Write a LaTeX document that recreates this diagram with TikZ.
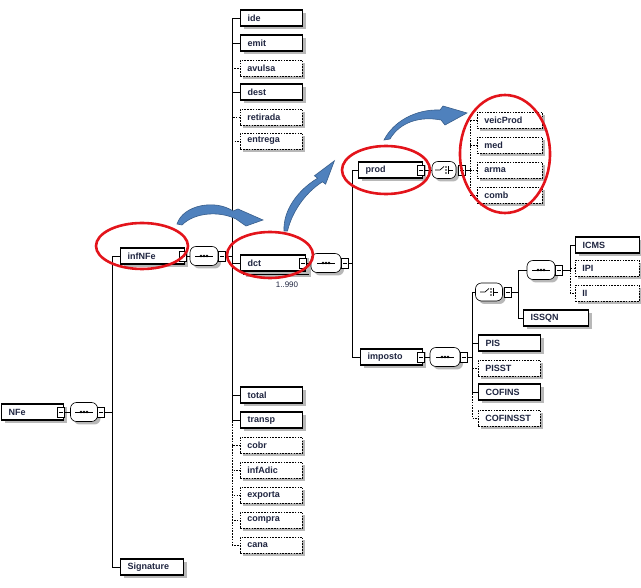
\documentclass[tikz,border=0pt]{standalone}
\usepackage{fontspec}
\setmainfont{Liberation Sans}
\usetikzlibrary{shapes.misc,shadows,calc}
\definecolor{navy}{HTML}{1F2540}
\definecolor{arrfill}{HTML}{4F81BD}
\definecolor{arrline}{HTML}{385D8A}
\definecolor{ovalred}{HTML}{E3141B}
\newcommand\seqsym[1]{%
  \draw[line width=0.8pt] ([xshift=-9pt]#1.center) -- ([xshift=9pt]#1.center);
  \foreach \dx in {-3,0,3} \fill ([xshift=\dx pt]#1.center) circle (1.3pt);}
\newcommand\chsym[1]{%
  \draw[line width=0.7pt] ([xshift=-9pt]#1.center) -- ([xshift=-4pt]#1.center) -- ([xshift=0pt,yshift=3.5pt]#1.center);
  \foreach \dy in {-3,0,3} \fill ([xshift=2pt,yshift=\dy pt]#1.center) circle (0.9pt);
  \draw[line width=0.7pt] ([xshift=4.5pt,yshift=-4pt]#1.center) -- ([xshift=4.5pt,yshift=4pt]#1.center)
    ([xshift=4.5pt]#1.center) -- ([xshift=9pt]#1.center);}
\begin{document}
\begin{tikzpicture}[x=1pt,y=-1pt,
  shd/.style={drop shadow={shadow xshift=3pt,shadow yshift=-3pt,fill=black!28,opacity=1}},
  el/.style={draw=black, line width=1.1pt, fill=white, anchor=west, minimum height=16pt,
    inner xsep=7pt, inner ysep=0pt, text width=#1, align=left, text=navy,
    font=\fontsize{9}{10}\selectfont\bfseries, shd},
  el/.default=48pt,
  opt/.style={el=#1, line width=0.8pt, dash pattern=on 1.6pt off 1.2pt},
  opt/.default=48pt,
  comp/.style={rectangle, rounded corners=6pt, draw=black, line width=0.6pt,
    fill=white, minimum width=28pt, minimum height=19pt, inner sep=0pt, shd},
  sq/.style={draw=black, line width=0.6pt, fill=white, minimum width=7pt, minimum height=10pt, inner sep=0pt},
  cn/.style={line width=0.6pt},
  cnd/.style={line width=0.6pt, dash pattern=on 1.6pt off 1.2pt},
  lbl/.style={font=\fontsize{8}{9}\selectfont, text=navy},
  oval/.style={draw=ovalred, line width=2.6pt},
  barrow/.style={fill=arrfill, draw=arrline, line width=0.6pt}
]
\useasboundingbox (0,0) rectangle (641,588);

% ---------- NFe level
\node[el] (NFe) at (1,412) {NFe};
\node[sq] (NFe-s) at (61,412) {\rule{4pt}{0.6pt}};
\node[comp, minimum width=27pt] (c0) at (84,412) {}; \seqsym{c0}
\node[sq] (c0-s) at (101,412) {\rule{4pt}{0.6pt}};
\coordinate (b0) at (112,412);

\node[el=50pt] (infNFe) at (120,256) {infNFe};
\node[sq] (infNFe-s) at (183,256) {\rule{4pt}{0.6pt}};
\node[comp] (c1) at (204,256) {}; \seqsym{c1}
\node[sq] (c1-s) at (222,256) {\rule{4pt}{0.6pt}};
\coordinate (b1) at (232,256);

\node[el=49pt] (Signature) at (120,567) {Signature};

\draw[cn] (NFe-s.east) -- (c0.west);
\draw[cn] (c0-s.east) -- (b0);
\draw[cn] (b0) |- (infNFe.west);
\draw[cn] (b0) |- (Signature.west);
\draw[cn] (infNFe-s.east) -- (c1.west);
\draw[cn] (c1-s.east) -- (b1);

% ---------- infNFe children
\node[el] (ide) at (240,18) {ide};
\node[el] (emit) at (240,43) {emit};
\node[opt] (avulsa) at (240,68) {avulsa};
\node[el] (dest) at (240,92) {dest};
\node[opt] (retirada) at (240,117) {retirada};
\node[opt] (entrega) at (240,141) {entrega};
\node[el=51pt, draw=black, line width=0.8pt] (dctback) at (243,266) {\phantom{dct}};
\node[el=51pt] (dct) at (240,263) {dct};
\node[el] (total) at (240,395) {total};
\node[el] (transp) at (240,420) {transp};
\node[opt] (cobr) at (240,445) {cobr};
\node[opt] (infAdic) at (240,470) {infAdic};
\node[opt] (exporta) at (240,495) {exporta};
\node[opt] (compra) at (240,520) {compra};
\node[opt] (cana) at (240,545) {cana};

\foreach \n in {avulsa,retirada,entrega,cobr,infAdic,exporta,compra,cana}
  \draw[cnd] (b1) |- (\n.west);
\foreach \n in {ide,emit,dest,dct,total,transp}
  \draw[cn] (b1) |- (\n.west);

\node[lbl] (mult) at (287,285) {1..990};

% ---------- dct
\node[sq] (dct-s) at (303,263) {\rule{4pt}{0.6pt}};
\node[comp, minimum width=30pt] (c2) at (326,263) {}; \seqsym{c2}
\node[sq] (c2-s) at (345,263) {\rule{4pt}{0.6pt}};
\coordinate (b2) at (352,263);
\draw[cn] (dct-s.east) -- (c2.west);
\draw[cn] (c2-s.east) -- (b2);

\node[el=50pt] (prod) at (358,170) {prod};
\node[el=48pt] (imposto) at (360,357) {imposto};
\draw[cn] (b2) |- (prod.west);
\draw[cn] (b2) |- (imposto.west);

% ---------- prod
\node[sq] (prod-s) at (421,170) {\rule{4pt}{0.6pt}};
\node[comp, minimum width=24pt, minimum height=17pt] (c3) at (444,170) {}; \chsym{c3}
\node[sq] (c3-s) at (462,170) {\rule{4pt}{0.6pt}};
\coordinate (b3) at (470,170);
\draw[cn] (prod-s.east) -- (c3.west);
\draw[cn] (c3-s.east) -- (b3);
\node[opt=51pt] (veicProd) at (477,120) {veicProd};
\node[opt=51pt] (med) at (477,145) {med};
\node[opt=51pt] (arma) at (477,170) {arma};
\node[opt=51pt] (comb) at (477,195) {comb};
\foreach \n in {veicProd,med,arma,comb}
  \draw[cnd] (b3) |- (\n.west);

% ---------- imposto
\node[sq] (imposto-s) at (421,357) {\rule{4pt}{0.6pt}};
\node[comp, minimum width=30pt] (c4) at (445,357) {}; \seqsym{c4}
\node[sq] (c4-s) at (464,357) {\rule{4pt}{0.6pt}};
\coordinate (b4) at (472,357);
\draw[cn] (imposto-s.east) -- (c4.west);
\draw[cn] (c4-s.east) -- (b4);

\node[comp, minimum width=27pt, minimum height=18pt] (c5) at (489,292) {}; \chsym{c5}
\node[sq] (c5-s) at (508,292) {\rule{4pt}{0.6pt}};
\coordinate (b5) at (518,292);
\node[el] (PIS) at (478,343) {PIS};
\node[opt] (PISST) at (478,368) {PISST};
\node[el] (COFINS) at (478,392) {COFINS};
\node[opt] (COFINSST) at (478,418) {COFINSST};
\draw[cnd] (b4) |- (PISST.west);
\draw[cnd] (b4) |- (COFINSST.west);
\draw[cn] (b4) |- (c5.west);
\draw[cn] (b4) |- (PIS.west);
\draw[cn] (b4) |- (COFINS.west);
\draw[cn] (c5-s.east) -- (b5);

\node[comp] (c6) at (541,270) {}; \seqsym{c6}
\node[sq] (c6-s) at (559,270) {\rule{4pt}{0.6pt}};
\coordinate (b6) at (570,270);
\node[el=51pt] (ISSQN) at (523,318) {ISSQN};
\draw[cn] (b5) |- (c6.west);
\draw[cn] (b5) |- (ISSQN.west);
\draw[cn] (c6-s.east) -- (b6);
\node[el=50pt] (ICMS) at (575,245) {ICMS};
\node[opt=50pt] (IPI) at (575,268) {IPI};
\node[opt=50pt] (II) at (575,293) {II};
\draw[cnd] (b6) |- (IPI.west);
\draw[cnd] (b6) |- (II.west);
\draw[cn] (b6) |- (ICMS.west);

% ---------- red ovals
\draw[oval] (142,246) ellipse [x radius=46pt, y radius=23pt];
\draw[oval] (270,255) ellipse [x radius=43pt, y radius=23pt];
\draw[oval] (386,170) ellipse [x radius=44pt, y radius=24pt];
\draw[oval] (505,154) ellipse [x radius=45pt, y radius=59pt];

% ---------- blue curved arrows
\filldraw[barrow] (177,224) .. controls (183,205) and (215,199) .. (233,211) -- (238,209) -- (263,220)
  -- (246,226) -- (236,219) .. controls (220,211) and (195,212) .. (182,225) -- cycle;
\filldraw[barrow] (284,231) .. controls (283,210) and (298,190) .. (317.6,178.2) -- (314.4,175.8)
  -- (334.4,160.8) -- (325.6,184.2) -- (322.4,181.8) .. controls (305,193) and (292,212) .. (287.5,231) -- cycle;
\filldraw[barrow] (384,140) .. controls (393,122) and (415,109) .. (440,110) -- (443,106) -- (467,113)
  -- (445,125) -- (441,120) .. controls (420,116) and (400,122) .. (390,139) -- cycle;
\end{tikzpicture}
\end{document}
